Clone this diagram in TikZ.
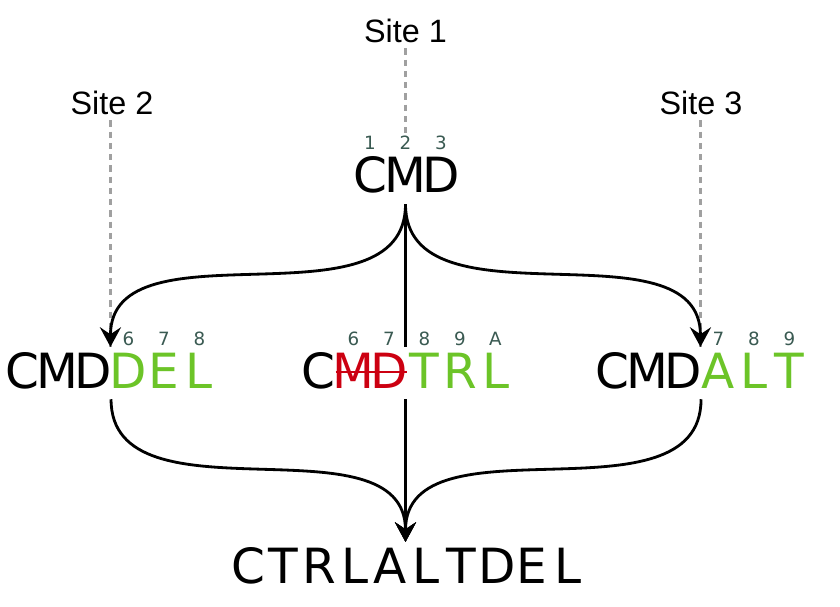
\documentclass[tikz,border=0pt]{standalone}
\usepackage{fontspec}
\setmainfont{Liberation Sans}
\newfontfamily\glyphfont{DejaVu Sans}
\usetikzlibrary{arrows.meta}
\definecolor{addgreen}{RGB}{108,196,40}
\definecolor{delred}{RGB}{204,0,17}
\definecolor{idxgray}{RGB}{58,90,82}
\definecolor{guidegray}{RGB}{160,160,160}
\newlength\cellw
\setlength\cellw{0.8875cm}
\def\cells#1{\cellsnext#1\relax}
\def\cellsnext#1{\ifx#1\relax\else\makebox[\cellw]{#1}\expandafter\cellsnext\fi}
\newcommand\struck[1]{\setbox0=\hbox{\cells{#1}}\rlap{\rule[0.3em]{\wd0}{1.5pt}}\box0}
\tikzset{
  wordbox/.style={font=\glyphfont\fontsize{34.5}{41}\selectfont, inner xsep=0pt, inner ysep=1.5pt, text height=27.5pt, text depth=6.3pt, anchor=base},
  idxrow/.style={font=\glyphfont\fontsize{13}{15}\selectfont, text=idxgray, inner xsep=0pt, inner ysep=2pt, anchor=base},
  sitelabel/.style={font=\fontsize{23}{27}\selectfont, anchor=base},
  guideline/.style={line width=1.8pt, draw=guidegray, dash pattern=on 4.5pt off 3.5pt},
  edit/.style={line width=2pt, draw=black},
  editarrow/.style={edit, -{Stealth[length=14pt, width=15pt, inset=5pt]}},
}

\begin{document}
\begin{tikzpicture}[x=0.025cm, y=0.025cm]
\useasboundingbox (0,0) rectangle (840,606);
\node[sitelabel] (site1) at (405.5,563) {Site 1};
\node[sitelabel] (site2) at (112,491) {Site 2};
\node[sitelabel] (site3) at (701,491) {Site 3};
\node[idxrow] (topidx) at (405.5,456) {\cells{123}};
\node[wordbox] (cmd) at (405.5,413) {\cells{CMD}};
\node[idxrow] (leftidx) at (164,261) {\cells{678}};
\node[wordbox] (leftold) at (57.5,218) {\cells{CMD}};
\node[wordbox, text=addgreen] (leftnew) at (164,218) {\cells{DEL}};
\node[idxrow] (mididx) at (424.5,261) {\cells{6789A}};
\node[wordbox] (mid) at (406.75,218) {\cells{C}\textcolor{delred}{\struck{MD}}\textcolor{addgreen}{\cells{TRL}}};
\node[idxrow] (rightidx) at (754,261) {\cells{789}};
\node[wordbox] (rightold) at (647.5,218) {\cells{CMD}};
\node[wordbox, text=addgreen] (rightnew) at (754,218) {\cells{ALT}};
\node[wordbox] (out) at (408,23) {\cells{CTRLALTDEL}};
\draw[guideline] (site1.south) -- (topidx.north);
\draw[guideline] (site2.south -| leftnew.west) -- (leftnew.north west);
\draw[guideline] (site3.south -| rightnew.west) -- (rightnew.north west);
\draw[edit] (cmd.south) -- (cmd.south |- mid.north);
\draw[editarrow] (cmd.south) to[out=-90, in=90] (leftnew.north west);
\draw[editarrow] (cmd.south) to[out=-90, in=90] (rightnew.north west);
\draw[editarrow] (cmd.south |- mid.south) -- (cmd.south |- out.north);
\draw[editarrow] (leftold.south east) to[out=-90, in=90] (cmd.south |- out.north);
\draw[editarrow] (rightold.south east) to[out=-90, in=90] (cmd.south |- out.north);
\end{tikzpicture}
\end{document}
